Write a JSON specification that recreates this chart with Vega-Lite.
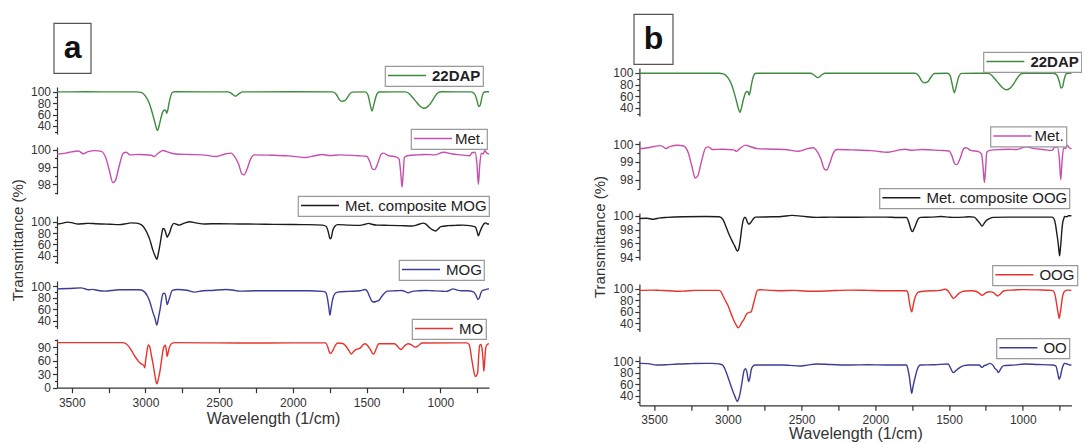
{
"$schema": "https://vega.github.io/schema/vega-lite/v6.json",
"padding": {"left": 10, "top": 13, "right": 0, "bottom": 0},
"config": {
  "font": "Liberation Sans",
  "view": {"stroke": null},
  "axis": {"grid": false, "domainColor": "#333", "tickColor": "#333", "labelColor": "#333", "titleColor": "#333", "labelFont": "Liberation Sans", "titleFont": "Liberation Sans", "labelFontSize": 12, "titleFontWeight": "normal", "domainWidth": 1.2, "tickWidth": 1.2, "labelOverlap": false, "labelFlush": false, "labelPadding": 2},
  "legend": {"labelFont": "Liberation Sans", "strokeWidth": 1.2},
  "line": {"strokeWidth": 1.4, "interpolate": "monotone", "clip": true}
},
"datasets": {
  "dap": [{"w":3600,"t":99.5},{"w":3400,"t":99.6},{"w":3200,"t":99.5},{"w":3060,"t":99.5},{"w":3030,"t":98.5},{"w":3000,"t":92},{"w":2975,"t":80},{"w":2955,"t":64},{"w":2940,"t":50},{"w":2928,"t":38},{"w":2918,"t":32},{"w":2908,"t":40},{"w":2895,"t":54},{"w":2882,"t":65},{"w":2870,"t":68},{"w":2862,"t":67},{"w":2856,"t":62},{"w":2850,"t":66},{"w":2840,"t":80},{"w":2828,"t":93},{"w":2815,"t":99},{"w":2800,"t":99.6},{"w":2600,"t":99.5},{"w":2440,"t":99.5},{"w":2415,"t":96.5},{"w":2390,"t":92},{"w":2365,"t":96.5},{"w":2340,"t":99.5},{"w":2000,"t":99.6},{"w":1730,"t":99.5},{"w":1705,"t":95},{"w":1685,"t":86},{"w":1668,"t":83},{"w":1645,"t":84.5},{"w":1622,"t":93},{"w":1600,"t":99},{"w":1510,"t":99.5},{"w":1492,"t":95},{"w":1478,"t":80},{"w":1464,"t":66},{"w":1452,"t":76},{"w":1436,"t":92},{"w":1415,"t":99.3},{"w":1240,"t":99.5},{"w":1215,"t":97},{"w":1190,"t":90},{"w":1160,"t":81},{"w":1135,"t":74},{"w":1112,"t":71},{"w":1090,"t":73},{"w":1065,"t":80},{"w":1040,"t":90},{"w":1015,"t":98},{"w":990,"t":99.6},{"w":790,"t":99.5},{"w":768,"t":96},{"w":752,"t":85},{"w":740,"t":74},{"w":730,"t":76},{"w":718,"t":90},{"w":705,"t":98.5},{"w":690,"t":99.6},{"w":670,"t":99.6}],
  "met": [{"w":3600,"t":99.74},{"w":3540,"t":99.8},{"w":3502,"t":99.87},{"w":3455,"t":99.92},{"w":3420,"t":99.76},{"w":3390,"t":99.88},{"w":3340,"t":99.94},{"w":3300,"t":99.9},{"w":3268,"t":99.5},{"w":3245,"t":98.8},{"w":3221,"t":98.1},{"w":3205,"t":98.2},{"w":3180,"t":99.0},{"w":3150,"t":99.8},{"w":3130,"t":99.85},{"w":3105,"t":99.7},{"w":3040,"t":99.72},{"w":2960,"t":99.68},{"w":2941,"t":99.6},{"w":2920,"t":99.75},{"w":2880,"t":99.95},{"w":2860,"t":99.9},{"w":2800,"t":99.75},{"w":2700,"t":99.72},{"w":2614,"t":99.7},{"w":2520,"t":99.6},{"w":2460,"t":99.75},{"w":2420,"t":99.8},{"w":2395,"t":99.6},{"w":2370,"t":99.2},{"w":2345,"t":98.6},{"w":2330,"t":98.55},{"w":2310,"t":98.9},{"w":2285,"t":99.5},{"w":2260,"t":99.7},{"w":2150,"t":99.68},{"w":2030,"t":99.64},{"w":1913,"t":99.55},{"w":1850,"t":99.65},{"w":1800,"t":99.72},{"w":1750,"t":99.66},{"w":1680,"t":99.7},{"w":1560,"t":99.65},{"w":1500,"t":99.62},{"w":1478,"t":99.3},{"w":1462,"t":98.9},{"w":1446,"t":98.85},{"w":1425,"t":99.2},{"w":1400,"t":99.75},{"w":1385,"t":99.8},{"w":1352,"t":99.65},{"w":1300,"t":99.58},{"w":1280,"t":99.45},{"w":1268,"t":98.6},{"w":1260,"t":97.85},{"w":1252,"t":98.6},{"w":1244,"t":99.55},{"w":1224,"t":99.65},{"w":1150,"t":99.7},{"w":1095,"t":99.72},{"w":1040,"t":99.7},{"w":978,"t":99.85},{"w":920,"t":99.75},{"w":862,"t":99.7},{"w":800,"t":99.65},{"w":785,"t":99.82},{"w":765,"t":99.85},{"w":752,"t":99.2},{"w":742,"t":98.0},{"w":733,"t":99.1},{"w":722,"t":99.8},{"w":710,"t":99.75},{"w":698,"t":99.95},{"w":690,"t":99.85},{"w":670,"t":99.74}],
  "compmog": [{"w":3600,"t":96},{"w":3560,"t":97.5},{"w":3530,"t":99.2},{"w":3495,"t":98},{"w":3460,"t":96},{"w":3420,"t":96.5},{"w":3390,"t":97},{"w":3340,"t":96.5},{"w":3297,"t":96},{"w":3240,"t":95.5},{"w":3180,"t":94.8},{"w":3130,"t":96.5},{"w":3098,"t":98},{"w":3065,"t":97.5},{"w":3040,"t":96},{"w":3020,"t":93},{"w":3005,"t":88},{"w":2985,"t":78},{"w":2970,"t":68},{"w":2950,"t":50},{"w":2935,"t":40},{"w":2923,"t":34},{"w":2912,"t":45},{"w":2900,"t":62},{"w":2890,"t":78},{"w":2881,"t":88},{"w":2872,"t":87},{"w":2862,"t":80},{"w":2853,"t":72.6},{"w":2845,"t":76},{"w":2837,"t":80},{"w":2822,"t":92},{"w":2806,"t":97},{"w":2785,"t":95},{"w":2771,"t":94},{"w":2735,"t":97.5},{"w":2701,"t":100},{"w":2660,"t":98},{"w":2596,"t":96},{"w":2500,"t":96.5},{"w":2363,"t":96},{"w":2250,"t":95.8},{"w":2129,"t":95.3},{"w":2000,"t":95},{"w":1896,"t":94.8},{"w":1800,"t":94},{"w":1775,"t":92},{"w":1760,"t":82},{"w":1748,"t":70},{"w":1740,"t":72},{"w":1730,"t":84},{"w":1715,"t":92},{"w":1697,"t":94.8},{"w":1620,"t":94},{"w":1545,"t":93.6},{"w":1510,"t":95.5},{"w":1487,"t":97},{"w":1460,"t":95},{"w":1429,"t":94},{"w":1350,"t":93.5},{"w":1270,"t":93},{"w":1195,"t":92.4},{"w":1150,"t":95},{"w":1115,"t":97.5},{"w":1100,"t":96},{"w":1075,"t":90},{"w":1055,"t":86},{"w":1032,"t":83.7},{"w":1015,"t":87},{"w":997,"t":91.3},{"w":950,"t":93},{"w":900,"t":93.5},{"w":845,"t":94},{"w":800,"t":93},{"w":763,"t":91},{"w":752,"t":84},{"w":742,"t":75},{"w":732,"t":82},{"w":717,"t":91},{"w":705,"t":96},{"w":695,"t":98},{"w":680,"t":96},{"w":670,"t":96}],
  "mog": [{"w":3600,"t":95.4},{"w":3520,"t":96},{"w":3437,"t":97},{"w":3410,"t":95.5},{"w":3390,"t":93.7},{"w":3360,"t":94.5},{"w":3320,"t":92.5},{"w":3273,"t":91.4},{"w":3230,"t":92.5},{"w":3180,"t":93.7},{"w":3100,"t":93.7},{"w":3040,"t":93.7},{"w":3005,"t":89.7},{"w":2985,"t":82},{"w":2970,"t":72.6},{"w":2950,"t":55},{"w":2935,"t":44},{"w":2923,"t":32.6},{"w":2912,"t":45},{"w":2900,"t":61},{"w":2890,"t":78},{"w":2881,"t":87},{"w":2870,"t":88},{"w":2862,"t":82},{"w":2853,"t":68},{"w":2845,"t":73},{"w":2837,"t":79.4},{"w":2818,"t":92.6},{"w":2783,"t":94.3},{"w":2720,"t":93},{"w":2666,"t":89.7},{"w":2610,"t":92},{"w":2549,"t":92.6},{"w":2456,"t":94.3},{"w":2400,"t":93},{"w":2363,"t":91.4},{"w":2250,"t":92},{"w":2129,"t":92},{"w":2000,"t":92},{"w":1896,"t":92},{"w":1800,"t":91},{"w":1779,"t":89.7},{"w":1765,"t":78},{"w":1755,"t":60},{"w":1749,"t":49.7},{"w":1742,"t":60},{"w":1732,"t":75.4},{"w":1715,"t":87},{"w":1697,"t":89.7},{"w":1620,"t":91},{"w":1545,"t":92},{"w":1510,"t":94.3},{"w":1495,"t":91},{"w":1480,"t":82},{"w":1465,"t":74},{"w":1452,"t":72.6},{"w":1435,"t":73.5},{"w":1417,"t":75.4},{"w":1395,"t":83},{"w":1359,"t":91.5},{"w":1300,"t":92},{"w":1265,"t":92.5},{"w":1240,"t":91},{"w":1219,"t":88.6},{"w":1195,"t":90.5},{"w":1148,"t":92},{"w":1100,"t":92.5},{"w":1055,"t":92},{"w":1000,"t":91.5},{"w":962,"t":90.9},{"w":935,"t":93},{"w":915,"t":95.4},{"w":890,"t":93.5},{"w":857,"t":92},{"w":820,"t":92},{"w":775,"t":90},{"w":758,"t":84},{"w":745,"t":77},{"w":735,"t":80},{"w":725,"t":88},{"w":717,"t":92},{"w":700,"t":93.5},{"w":685,"t":95},{"w":670,"t":95.4}],
  "mo": [{"w":3600,"t":100},{"w":3400,"t":100},{"w":3250,"t":100},{"w":3157,"t":100},{"w":3130,"t":97},{"w":3110,"t":90},{"w":3090,"t":80},{"w":3075,"t":71},{"w":3055,"t":62},{"w":3040,"t":55.7},{"w":3030,"t":53},{"w":3021,"t":52},{"w":3010,"t":48},{"w":3005,"t":44},{"w":2998,"t":62},{"w":2990,"t":80},{"w":2981,"t":95},{"w":2972,"t":92},{"w":2960,"t":72},{"w":2946,"t":48},{"w":2935,"t":25},{"w":2923,"t":8.4},{"w":2912,"t":20},{"w":2900,"t":40},{"w":2888,"t":68},{"w":2876,"t":90},{"w":2865,"t":94},{"w":2858,"t":82},{"w":2853,"t":69},{"w":2846,"t":78},{"w":2837,"t":90},{"w":2818,"t":99},{"w":2800,"t":100},{"w":2600,"t":99.5},{"w":2363,"t":99},{"w":2000,"t":99.5},{"w":1779,"t":99.5},{"w":1765,"t":92},{"w":1754,"t":80},{"w":1744,"t":76},{"w":1730,"t":82},{"w":1715,"t":92},{"w":1697,"t":99},{"w":1662,"t":98},{"w":1640,"t":92},{"w":1620,"t":82},{"w":1604,"t":74.8},{"w":1590,"t":80},{"w":1570,"t":85},{"w":1545,"t":87.7},{"w":1525,"t":95},{"w":1510,"t":97.6},{"w":1490,"t":92},{"w":1470,"t":82},{"w":1458,"t":75},{"w":1452,"t":74.8},{"w":1440,"t":82},{"w":1428,"t":92},{"w":1417,"t":97.6},{"w":1312,"t":97.6},{"w":1290,"t":92},{"w":1275,"t":86},{"w":1265,"t":84.7},{"w":1250,"t":90},{"w":1230,"t":96},{"w":1219,"t":97.6},{"w":1195,"t":95},{"w":1172,"t":90},{"w":1150,"t":93},{"w":1125,"t":99},{"w":900,"t":99.5},{"w":822,"t":99.5},{"w":805,"t":96},{"w":787,"t":63},{"w":775,"t":40},{"w":763,"t":25},{"w":755,"t":27},{"w":747,"t":33},{"w":740,"t":70},{"w":733,"t":93.8},{"w":725,"t":96},{"w":717,"t":86},{"w":710,"t":60},{"w":705,"t":36.6},{"w":700,"t":55},{"w":693,"t":86},{"w":685,"t":95},{"w":670,"t":97.6}],
  "compoog": [{"w":3600,"t":99.6},{"w":3550,"t":99.65},{"w":3506,"t":99.5},{"w":3460,"t":99.7},{"w":3412,"t":99.76},{"w":3300,"t":99.85},{"w":3153,"t":99.9},{"w":3059,"t":99.85},{"w":3035,"t":99.5},{"w":3023,"t":99.0},{"w":3005,"t":98.0},{"w":2988,"t":97.1},{"w":2970,"t":96.3},{"w":2953,"t":95.6},{"w":2940,"t":95.0},{"w":2934,"t":94.9},{"w":2925,"t":95.3},{"w":2917,"t":96.3},{"w":2905,"t":98.3},{"w":2894,"t":99.5},{"w":2884,"t":99.8},{"w":2877,"t":99.6},{"w":2868,"t":99.1},{"w":2859,"t":98.8},{"w":2850,"t":98.9},{"w":2842,"t":99.1},{"w":2825,"t":99.6},{"w":2812,"t":99.8},{"w":2700,"t":99.85},{"w":2635,"t":99.9},{"w":2565,"t":100.05},{"w":2500,"t":99.95},{"w":2400,"t":99.76},{"w":2300,"t":99.8},{"w":2164,"t":99.78},{"w":2050,"t":99.8},{"w":1929,"t":99.8},{"w":1850,"t":99.75},{"w":1788,"t":99.76},{"w":1778,"t":99.4},{"w":1769,"t":98.8},{"w":1758,"t":98.0},{"w":1748,"t":97.7},{"w":1738,"t":98.1},{"w":1724,"t":98.8},{"w":1710,"t":99.5},{"w":1694,"t":99.76},{"w":1620,"t":99.8},{"w":1553,"t":99.9},{"w":1500,"t":99.8},{"w":1458,"t":99.76},{"w":1400,"t":99.8},{"w":1364,"t":99.85},{"w":1330,"t":99.8},{"w":1305,"t":99.27},{"w":1290,"t":98.9},{"w":1275,"t":98.5},{"w":1262,"t":98.9},{"w":1247,"t":99.3},{"w":1225,"t":99.6},{"w":1200,"t":99.76},{"w":1100,"t":99.8},{"w":988,"t":99.8},{"w":900,"t":99.8},{"w":800,"t":99.8},{"w":785,"t":99.4},{"w":776,"t":98.5},{"w":768,"t":97.3},{"w":760,"t":96.1},{"w":755,"t":95},{"w":750,"t":94.2},{"w":745,"t":95.2},{"w":741,"t":96.1},{"w":735,"t":97.8},{"w":729,"t":99.0},{"w":720,"t":99.7},{"w":717,"t":99.9},{"w":700,"t":99.85},{"w":690,"t":100},{"w":670,"t":100}],
  "oog": [{"w":3600,"t":97},{"w":3520,"t":97.5},{"w":3459,"t":97},{"w":3400,"t":96.5},{"w":3341,"t":95.4},{"w":3290,"t":96},{"w":3223,"t":97},{"w":3150,"t":97},{"w":3059,"t":97},{"w":3045,"t":94},{"w":3035,"t":88.6},{"w":3018,"t":80},{"w":3000,"t":71.4},{"w":2983,"t":60},{"w":2965,"t":48.6},{"w":2945,"t":38},{"w":2929,"t":32.6},{"w":2915,"t":37},{"w":2905,"t":42},{"w":2894,"t":45.7},{"w":2882,"t":52},{"w":2870,"t":57},{"w":2855,"t":59},{"w":2842,"t":60},{"w":2832,"t":68},{"w":2823,"t":77},{"w":2812,"t":88},{"w":2800,"t":97},{"w":2780,"t":98},{"w":2700,"t":97},{"w":2635,"t":96.5},{"w":2550,"t":97},{"w":2480,"t":96},{"w":2400,"t":95.4},{"w":2300,"t":96.5},{"w":2164,"t":97.5},{"w":2050,"t":97},{"w":1929,"t":96.5},{"w":1850,"t":96.5},{"w":1788,"t":96.5},{"w":1778,"t":92},{"w":1769,"t":77},{"w":1760,"t":65},{"w":1753,"t":60},{"w":1745,"t":68},{"w":1736,"t":80},{"w":1722,"t":90},{"w":1706,"t":94.3},{"w":1650,"t":96},{"w":1600,"t":96.5},{"w":1560,"t":97},{"w":1529,"t":98.9},{"w":1510,"t":97},{"w":1494,"t":91.4},{"w":1480,"t":86},{"w":1471,"t":82.9},{"w":1455,"t":86},{"w":1435,"t":91.4},{"w":1410,"t":95},{"w":1388,"t":96},{"w":1340,"t":96.5},{"w":1318,"t":95.5},{"w":1295,"t":92},{"w":1275,"t":88.6},{"w":1255,"t":92},{"w":1235,"t":94.3},{"w":1215,"t":94.5},{"w":1200,"t":93.5},{"w":1185,"t":90},{"w":1171,"t":87.4},{"w":1155,"t":90},{"w":1140,"t":94},{"w":1129,"t":96},{"w":1080,"t":97.5},{"w":988,"t":98.3},{"w":900,"t":97.8},{"w":800,"t":97},{"w":785,"t":93},{"w":776,"t":82.9},{"w":765,"t":65},{"w":758,"t":55},{"w":753,"t":48.6},{"w":746,"t":58},{"w":741,"t":65.7},{"w":733,"t":82},{"w":725,"t":91.4},{"w":715,"t":95.5},{"w":706,"t":97},{"w":690,"t":97.5},{"w":670,"t":97}],
  "oo": [{"w":3600,"t":96},{"w":3540,"t":95.5},{"w":3482,"t":93.1},{"w":3420,"t":93.5},{"w":3341,"t":94.9},{"w":3250,"t":95.5},{"w":3150,"t":96},{"w":3106,"t":96},{"w":3060,"t":95},{"w":3035,"t":93.1},{"w":3018,"t":85},{"w":3000,"t":73},{"w":2983,"t":60},{"w":2965,"t":47.4},{"w":2950,"t":38},{"w":2936,"t":30.3},{"w":2927,"t":35},{"w":2917,"t":44.6},{"w":2905,"t":62},{"w":2895,"t":78},{"w":2889,"t":84.6},{"w":2880,"t":87},{"w":2870,"t":80},{"w":2859,"t":64.6},{"w":2850,"t":72},{"w":2842,"t":84.6},{"w":2830,"t":91},{"w":2812,"t":93.1},{"w":2700,"t":93.1},{"w":2635,"t":93.1},{"w":2580,"t":92.5},{"w":2517,"t":91.4},{"w":2460,"t":93},{"w":2400,"t":94.9},{"w":2300,"t":94},{"w":2164,"t":93.1},{"w":2050,"t":93.5},{"w":1929,"t":93.1},{"w":1850,"t":93.1},{"w":1788,"t":93.1},{"w":1778,"t":85},{"w":1769,"t":73},{"w":1760,"t":55},{"w":1753,"t":44.6},{"w":1745,"t":55},{"w":1729,"t":73},{"w":1715,"t":86},{"w":1694,"t":93.1},{"w":1600,"t":93.5},{"w":1506,"t":94.9},{"w":1490,"t":88},{"w":1478,"t":82},{"w":1471,"t":80},{"w":1455,"t":83},{"w":1435,"t":87.4},{"w":1400,"t":92},{"w":1364,"t":93.1},{"w":1294,"t":93.1},{"w":1282,"t":90},{"w":1275,"t":89.1},{"w":1262,"t":92},{"w":1247,"t":93.1},{"w":1223,"t":96},{"w":1200,"t":92},{"w":1188,"t":87},{"w":1176,"t":84.6},{"w":1165,"t":80},{"w":1155,"t":84},{"w":1140,"t":90},{"w":1129,"t":92},{"w":1060,"t":93},{"w":988,"t":94.9},{"w":900,"t":94},{"w":800,"t":93.1},{"w":776,"t":91.5},{"w":765,"t":82},{"w":758,"t":73},{"w":753,"t":68.6},{"w":746,"t":72},{"w":734,"t":86},{"w":725,"t":93},{"w":717,"t":96},{"w":700,"t":95},{"w":680,"t":93.1},{"w":670,"t":93.1}]
},
"bounds": "flush",
"spacing": 582.4,
"resolve": {"scale": {"x": "independent", "y": "independent", "color": "independent", "shape": "independent"}, "legend": {"color": "independent", "shape": "independent"}},
"hconcat": [
 {"vconcat": [
  {"width": 432, "height": 24, "data": {"values": [{"p": "a"}]}, "mark": {"type": "point", "opacity": 0}, "encoding": {
    "shape": {"field": "p", "type": "nominal", "legend": {"orient": "none", "legendX": -3.3, "legendY": -40, "title": null, "labelFontSize": 32, "labelFontWeight": "bold", "labelColor": "#111", "symbolType": "circle", "symbolSize": 0, "symbolOpacity": 0, "symbolStrokeWidth": 0, "labelOffset": -31, "padding": 9, "strokeColor": "#555", "fillColor": "white"}}}},
  {"width": 432, "height": 47, "data": {"name": "dap"}, "mark": "line", "encoding": {
      "x": {"field": "w", "type": "quantitative", "scale": {"domain": [670, 3600], "reverse": true, "nice": false, "zero": false}, "axis": null},
      "y": {"field": "t", "type": "quantitative", "scale": {"domain": [26, 108], "nice": false, "zero": false}, "axis": {"title": null, "values": [30,40,50,60,70,80,90,100], "labelExpr": "datum.value % 20 === 0 ? datum.label : ''", "tickSize": {"condition": {"test": "datum.value % 20 !== 0", "value": 2.5}, "value": 4.5}}},
      "color": {"datum": "22DAP", "type": "nominal", "scale": {"range": ["#3d8b3d"]}, "legend": {"orient": "none", "legendX": 328, "legendY": -21, "title": null, "symbolType": "stroke", "symbolSize": 1444, "clipHeight": 15, "symbolStrokeWidth": 1.5, "labelFontSize": 15, "labelFontWeight": "bold", "labelColor": "#222", "labelOffset": 5, "padding": 2, "strokeColor": "#999", "fillColor": "white"}}
  }},
  {"width": 432, "height": 13, "data": {"values": []}, "mark": "point"},
  {"width": 432, "height": 47, "data": {"name": "met"}, "mark": "line", "encoding": {
    "x": {"field": "w", "type": "quantitative", "scale": {"domain": [670, 3600], "reverse": true, "nice": false, "zero": false}, "axis": null},
    "y": {"field": "t", "type": "quantitative", "scale": {"domain": [97.45, 100.15], "nice": false, "zero": false}, "axis": {"title": null, "values": [97.5,98,98.5,99,99.5,100], "labelExpr": "datum.value % 1 === 0 ? '' + datum.value : ''", "tickSize": {"condition": {"test": "datum.value % 1 !== 0", "value": 2.5}, "value": 4.5}}},
    "color": {"datum": "Met.", "type": "nominal", "scale": {"range": ["#c64fae"]}, "legend": {"orient": "none", "legendX": 354, "legendY": -18, "title": null, "symbolType": "stroke", "symbolSize": 1444, "clipHeight": 15, "symbolStrokeWidth": 1.5, "labelFontSize": 15, "labelColor": "#222", "labelOffset": 2, "padding": 2, "strokeColor": "#999", "fillColor": "white"}}
  }},
  {"width": 432, "height": 22, "data": {"values": []}, "mark": "point"},
  {"width": 432, "height": 47.5, "data": {"name": "compmog"}, "mark": "line", "encoding": {
    "x": {"field": "w", "type": "quantitative", "scale": {"domain": [670, 3600], "reverse": true, "nice": false, "zero": false}, "axis": null},
    "y": {"field": "t", "type": "quantitative", "scale": {"domain": [26.5, 110], "nice": false, "zero": false}, "axis": {"title": "Transmittance (%)", "titleFontSize": 15, "titlePadding": 5, "values": [30,40,50,60,70,80,90,100], "labelExpr": "datum.value % 20 === 0 ? datum.label : ''", "tickSize": {"condition": {"test": "datum.value % 20 !== 0", "value": 2.5}, "value": 4.5}}},
    "color": {"datum": "Met. composite MOG", "type": "nominal", "scale": {"range": ["#1c1c1c"]}, "legend": {"orient": "none", "legendX": 241, "legendY": -20, "title": null, "symbolType": "stroke", "symbolSize": 1444, "clipHeight": 15, "symbolStrokeWidth": 1.5, "labelFontSize": 15, "labelColor": "#222", "labelOffset": 5, "labelLimit": 300, "padding": 2, "strokeColor": "#999", "fillColor": "white"}}
  }},
  {"width": 432, "height": 16.5, "data": {"values": []}, "mark": "point"},
  {"width": 432, "height": 47.5, "data": {"name": "mog"}, "mark": "line", "encoding": {
    "x": {"field": "w", "type": "quantitative", "scale": {"domain": [670, 3600], "reverse": true, "nice": false, "zero": false}, "axis": null},
    "y": {"field": "t", "type": "quantitative", "scale": {"domain": [26.5, 109], "nice": false, "zero": false}, "axis": {"title": null, "values": [30,40,50,60,70,80,90,100], "labelExpr": "datum.value % 20 === 0 ? datum.label : ''", "tickSize": {"condition": {"test": "datum.value % 20 !== 0", "value": 2.5}, "value": 4.5}}},
    "color": {"datum": "MOG", "type": "nominal", "scale": {"range": ["#3d3d98"]}, "legend": {"orient": "none", "legendX": 342, "legendY": -21, "title": null, "symbolType": "stroke", "symbolSize": 1444, "clipHeight": 15, "symbolStrokeWidth": 1.5, "labelFontSize": 15, "labelColor": "#222", "labelOffset": 5, "padding": 2, "strokeColor": "#999", "fillColor": "white"}}
  }},
  {"width": 432, "height": 9.5, "data": {"values": []}, "mark": "point"},
  {"width": 432, "height": 48.7, "data": {"name": "mo"}, "mark": "line", "encoding": {
    "x": {"field": "w", "type": "quantitative", "scale": {"domain": [670, 3600], "reverse": true, "nice": false, "zero": false}, "axis": {"title": "Wavelength (1/cm)", "titleFontSize": 16, "titlePadding": 2, "values": [3500,3250,3000,2750,2500,2250,2000,1750,1500,1250,1000,750], "format": "d", "labelExpr": "datum.value % 500 === 0 ? datum.label : ''", "tickSize": 5, "labelPadding": 5}},
    "y": {"field": "t", "type": "quantitative", "scale": {"domain": [0, 108], "nice": false, "zero": false}, "axis": {"title": null, "values": [0,15,30,45,60,75,90,105], "labelExpr": "datum.value % 30 === 0 ? datum.label : ''", "tickSize": {"condition": {"test": "datum.value % 30 !== 0", "value": 2.5}, "value": 4.5}}},
    "color": {"datum": "MO", "type": "nominal", "scale": {"range": ["#e8332c"]}, "legend": {"orient": "none", "legendX": 355, "legendY": -20, "title": null, "symbolType": "stroke", "symbolSize": 1444, "clipHeight": 15, "symbolStrokeWidth": 1.5, "labelFontSize": 15, "labelColor": "#222", "labelOffset": 5, "padding": 2, "strokeColor": "#999", "fillColor": "white"}}
  }}
 ], "spacing": 0, "bounds": "flush",
 "resolve": {"scale": {"x": "independent", "y": "independent", "color": "independent", "shape": "independent"}, "legend": {"color": "independent", "shape": "independent"}}},
 {"vconcat": [
  {"width": 432, "height": 5, "data": {"values": [{"p": "b"}]}, "mark": {"type": "point", "opacity": 0}, "encoding": {
    "shape": {"field": "p", "type": "nominal", "legend": {"orient": "none", "legendX": -5.7, "legendY": -49, "title": null, "labelFontSize": 32, "labelFontWeight": "bold", "labelColor": "#111", "symbolType": "circle", "symbolSize": 0, "symbolOpacity": 0, "symbolStrokeWidth": 0, "labelOffset": -31, "padding": 9, "strokeColor": "#555", "fillColor": "white"}}}},
  {"width": 432, "height": 48, "data": {"name": "dap"}, "mark": "line", "encoding": {
      "x": {"field": "w", "type": "quantitative", "scale": {"domain": [670, 3600], "reverse": true, "nice": false, "zero": false}, "axis": null},
      "y": {"field": "t", "type": "quantitative", "scale": {"domain": [26, 108.5], "nice": false, "zero": false}, "axis": {"title": null, "values": [30,40,50,60,70,80,90,100], "labelExpr": "datum.value % 20 === 0 ? datum.label : ''", "tickSize": {"condition": {"test": "datum.value % 20 !== 0", "value": 2.5}, "value": 4.5}}},
      "color": {"datum": "22DAP", "type": "nominal", "scale": {"range": ["#3d8b3d"]}, "legend": {"orient": "none", "legendX": 344, "legendY": -16, "title": null, "symbolType": "stroke", "symbolSize": 1444, "clipHeight": 15, "symbolStrokeWidth": 1.5, "labelFontSize": 15, "labelFontWeight": "bold", "labelColor": "#222", "labelOffset": 5, "padding": 2, "strokeColor": "#999", "fillColor": "white"}}
  }},
  {"width": 432, "height": 24.5, "data": {"values": []}, "mark": "point"},
  {"width": 432, "height": 48, "data": {"name": "met"}, "mark": "line", "encoding": {
    "x": {"field": "w", "type": "quantitative", "scale": {"domain": [670, 3600], "reverse": true, "nice": false, "zero": false}, "axis": null},
    "y": {"field": "t", "type": "quantitative", "scale": {"domain": [97.48, 100.18], "nice": false, "zero": false}, "axis": {"title": null, "values": [97.5,98,98.5,99,99.5,100], "labelExpr": "datum.value % 1 === 0 ? '' + datum.value : ''", "tickSize": {"condition": {"test": "datum.value % 1 !== 0", "value": 2.5}, "value": 4.5}}},
    "color": {"datum": "Met.", "type": "nominal", "scale": {"range": ["#c64fae"]}, "legend": {"orient": "none", "legendX": 351, "legendY": -14.5, "title": null, "symbolType": "stroke", "symbolSize": 1444, "clipHeight": 15, "symbolStrokeWidth": 1.5, "labelFontSize": 15, "labelColor": "#222", "labelOffset": 2, "padding": 2, "strokeColor": "#999", "fillColor": "white"}}
  }},
  {"width": 432, "height": 23.2, "data": {"values": []}, "mark": "point"},
  {"width": 432, "height": 47, "data": {"name": "compoog"}, "mark": "line", "encoding": {
    "x": {"field": "w", "type": "quantitative", "scale": {"domain": [670, 3600], "reverse": true, "nice": false, "zero": false}, "axis": null},
    "y": {"field": "t", "type": "quantitative", "scale": {"domain": [93.6, 100.4], "nice": false, "zero": false}, "axis": {"title": "Transmittance (%)", "titleFontSize": 15, "titlePadding": 5, "values": [94,95,96,97,98,99,100], "labelExpr": "datum.value % 2 === 0 ? datum.label : ''", "tickSize": {"condition": {"test": "datum.value % 2 !== 0", "value": 2.5}, "value": 4.5}}},
    "color": {"datum": "Met. composite OOG", "type": "nominal", "scale": {"range": ["#1c1c1c"]}, "legend": {"orient": "none", "legendX": 240, "legendY": -24.7, "title": null, "symbolType": "stroke", "symbolSize": 1444, "clipHeight": 15, "symbolStrokeWidth": 1.5, "labelFontSize": 15, "labelColor": "#222", "labelOffset": 5, "labelLimit": 300, "padding": 2, "strokeColor": "#999", "fillColor": "white"}}
  }},
  {"width": 432, "height": 24, "data": {"values": []}, "mark": "point"},
  {"width": 432, "height": 47.6, "data": {"name": "oog"}, "mark": "line", "encoding": {
    "x": {"field": "w", "type": "quantitative", "scale": {"domain": [670, 3600], "reverse": true, "nice": false, "zero": false}, "axis": null},
    "y": {"field": "t", "type": "quantitative", "scale": {"domain": [26, 108], "nice": false, "zero": false}, "axis": {"title": null, "values": [30,40,50,60,70,80,90,100], "labelExpr": "datum.value % 20 === 0 ? datum.label : ''", "tickSize": {"condition": {"test": "datum.value % 20 !== 0", "value": 2.5}, "value": 4.5}}},
    "color": {"datum": "OOG", "type": "nominal", "scale": {"range": ["#e8332c"]}, "legend": {"orient": "none", "legendX": 353, "legendY": -18.7, "title": null, "symbolType": "stroke", "symbolSize": 1444, "clipHeight": 15, "symbolStrokeWidth": 1.5, "labelFontSize": 15, "labelColor": "#222", "labelOffset": 5, "padding": 2, "strokeColor": "#999", "fillColor": "white"}}
  }},
  {"width": 432, "height": 23.4, "data": {"values": []}, "mark": "point"},
  {"width": 432, "height": 49.3, "data": {"name": "oo"}, "mark": "line", "encoding": {
    "x": {"field": "w", "type": "quantitative", "scale": {"domain": [670, 3600], "reverse": true, "nice": false, "zero": false}, "axis": {"title": "Wavelength (1/cm)", "titleFontSize": 16, "titlePadding": 0, "values": [3500,3250,3000,2750,2500,2250,2000,1750,1500,1250,1000,750], "format": "d", "labelExpr": "datum.value % 500 === 0 ? datum.label : ''", "tickSize": 5, "labelPadding": 4}},
    "y": {"field": "t", "type": "quantitative", "scale": {"domain": [24, 108.6], "nice": false, "zero": false}, "axis": {"title": null, "values": [30,40,50,60,70,80,90,100], "labelExpr": "datum.value % 20 === 0 ? datum.label : ''", "tickSize": {"condition": {"test": "datum.value % 20 !== 0", "value": 2.5}, "value": 4.5}}},
    "color": {"datum": "OO", "type": "nominal", "scale": {"range": ["#3d3d98"]}, "legend": {"orient": "none", "legendX": 357, "legendY": -17.7, "title": null, "symbolType": "stroke", "symbolSize": 1444, "clipHeight": 15, "symbolStrokeWidth": 1.5, "labelFontSize": 15, "labelColor": "#222", "labelOffset": 5, "padding": 2, "strokeColor": "#999", "fillColor": "white"}}
  }}
 ], "spacing": 0, "bounds": "flush",
 "resolve": {"scale": {"x": "independent", "y": "independent", "color": "independent", "shape": "independent"}, "legend": {"color": "independent", "shape": "independent"}}}
]
}
